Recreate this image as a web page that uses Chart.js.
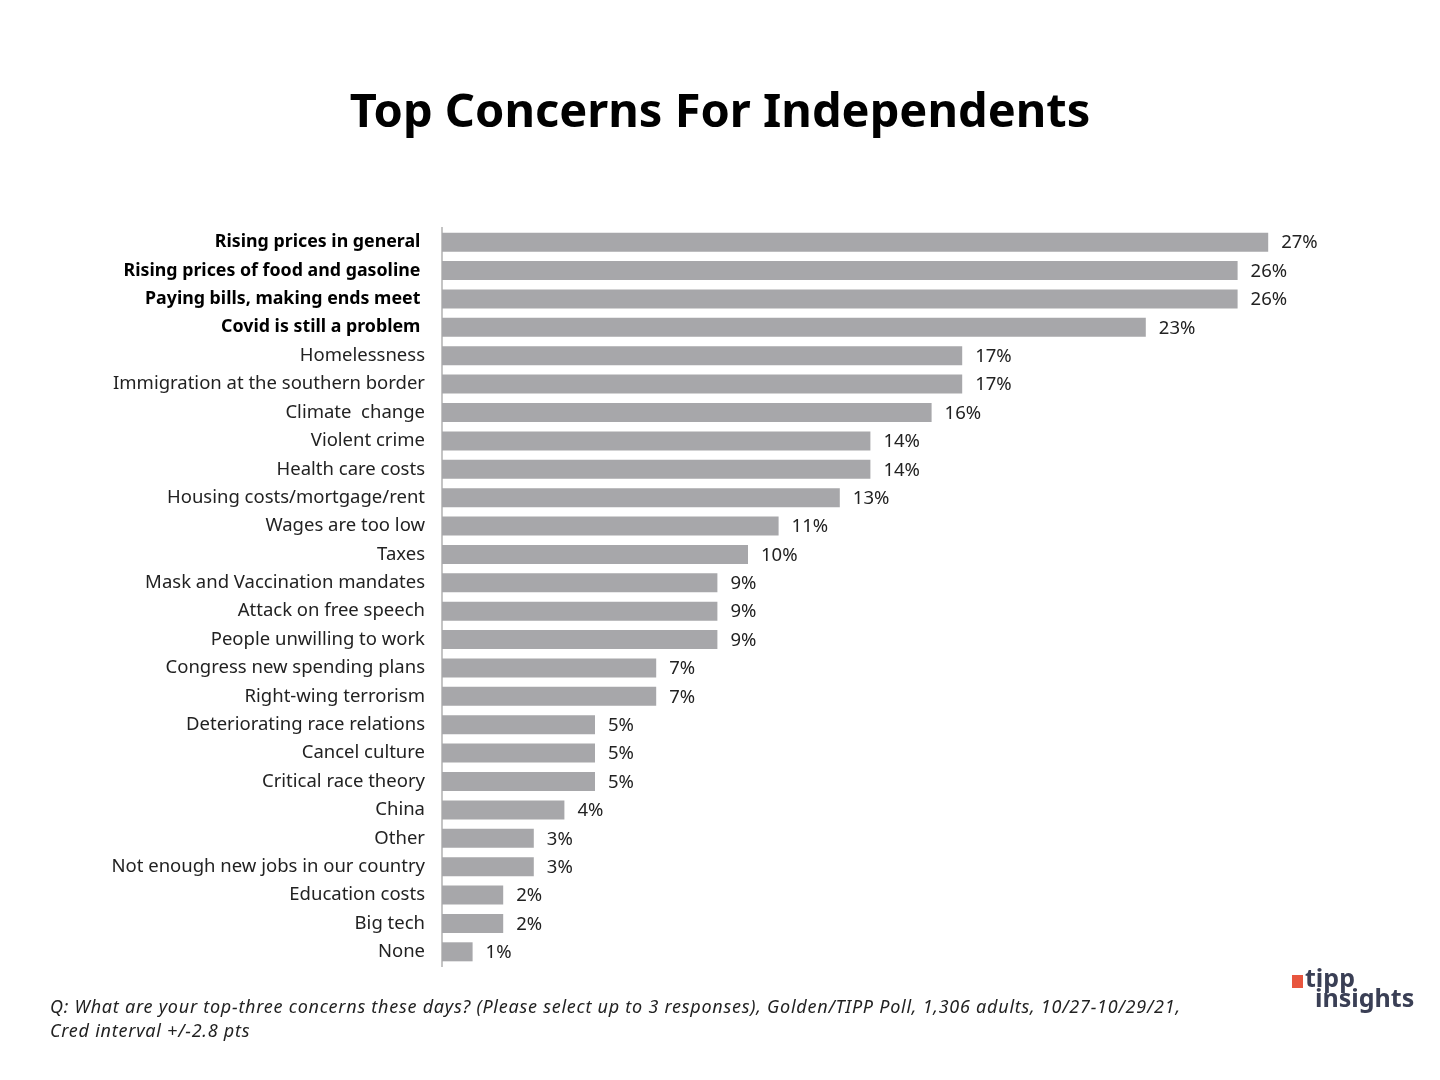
<!DOCTYPE html>
<html>
<head>
<meta charset="utf-8">
<script src="https://cdn.jsdelivr.net/npm/chart.js@4.4.0/dist/chart.umd.min.js"></script>
<style>
  body { margin: 0; background: #fff; }
  #wrap { position: relative; width: 1440px; height: 1080px; }
  #title { position: absolute; top: 77px; left: 0; width: 1440px; text-align: center;
           font-family: 'Noto Sans', sans-serif; font-weight: bold; font-size: 47px; color: #000; }
  #note { position: absolute; left: 50px; top: 994px; font-family: 'Noto Sans', sans-serif;
          font-style: italic; font-size: 18px; letter-spacing: 0.75px; line-height: 24px; color: #222; }
  .logo { position: absolute; font-family: 'Noto Sans', sans-serif; font-weight: bold;
          font-size: 25px; line-height: 25px; color: #3a3f55; }
  #mark { position: absolute; left: 1292px; top: 975px; width: 11px; height: 13px; background: #e8553e; }
</style>
</head>
<body>
<div id="wrap">
  <canvas id="concerns"></canvas>
  <div id="title">Top Concerns For Independents</div>
  <div id="note">Q: What are your top-three concerns these days? (Please select up to 3 responses), Golden/TIPP Poll, 1,306 adults, 10/27-10/29/21,<br>Cred interval +/-2.8 pts</div>
  <div id="mark"></div>
  <div class="logo" style="left:1305px; top:965px;">tipp</div>
  <div class="logo" style="left:1315px; top:985px;">insights</div>
</div>
<script>
const concerns = [
    'Rising prices in general ', 'Rising prices of food and gasoline ', 'Paying bills, making ends meet ',
    'Covid is still a problem ', 'Homelessness', 'Immigration at the southern border', 'Climate  change',
    'Violent crime', 'Health care costs', 'Housing costs/mortgage/rent', 'Wages are too low', 'Taxes',
    'Mask and Vaccination mandates', 'Attack on free speech', 'People unwilling to work',
    'Congress new spending plans', 'Right-wing terrorism', 'Deteriorating race relations',
    'Cancel culture', 'Critical race theory', 'China', 'Other', 'Not enough new jobs in our country',
    'Education costs', 'Big tech', 'None'
];
const shares = [27, 26, 26, 23, 17, 17, 16, 14, 14, 13, 11, 10, 9, 9, 9, 7, 7, 5, 5, 5, 4, 3, 3, 2, 2, 1];
const boldCount = 4; // top four are highlighted

document.getElementById('concerns').parentNode.style.height = '1080px';

// draws "27%" next to each bar
const valueLabels = {
    id: 'valueLabels',
    afterDatasetsDraw(chart) {
        const ctx = chart.ctx;
        const meta = chart.getDatasetMeta(0);
        ctx.save();
        ctx.font = '18.5px "Noto Sans"';
        ctx.fillStyle = '#222';
        ctx.textBaseline = 'middle';
        meta.data.forEach((bar, i) => {
            ctx.fillText(shares[i] + '%', bar.x + 13, bar.y + 1);
        });
        ctx.restore();
    }
};

const ctx = document.getElementById('concerns').getContext('2d');
const chart = new Chart(ctx, {
    type: 'bar',
    data: {
        labels: concerns,
        datasets: [{
            data: shares,
            backgroundColor: '#a7a7aa',
            barPercentage: 0.67,
            categoryPercentage: 1
        }]
    },
    options: {
        indexAxis: 'y',
        responsive: true,
        maintainAspectRatio: false,
        animation: false,
        layout: { padding: { top: 228, bottom: 114, left: 0, right: 80 } },
        plugins: { legend: { display: false }, tooltip: { enabled: false } },
        scales: {
            x: { display: false, min: 0, max: 30 },
            y: {
                afterFit(scale) { scale.width = 442; },
                grid: { display: false, drawTicks: false },
                border: { display: true, color: '#c4c4c4', width: 2 },
                ticks: {
                    padding: 17,
                    color: (c) => c.index < boldCount ? '#000' : '#222',
                    font: (c) => c.index < boldCount
                        ? { family: 'Noto Sans', size: 17.8, weight: 'bold' }
                        : { family: 'Noto Sans', size: 18.5 }
                }
            }
        }
    },
    plugins: [valueLabels]
});
</script>
</body>
</html>
